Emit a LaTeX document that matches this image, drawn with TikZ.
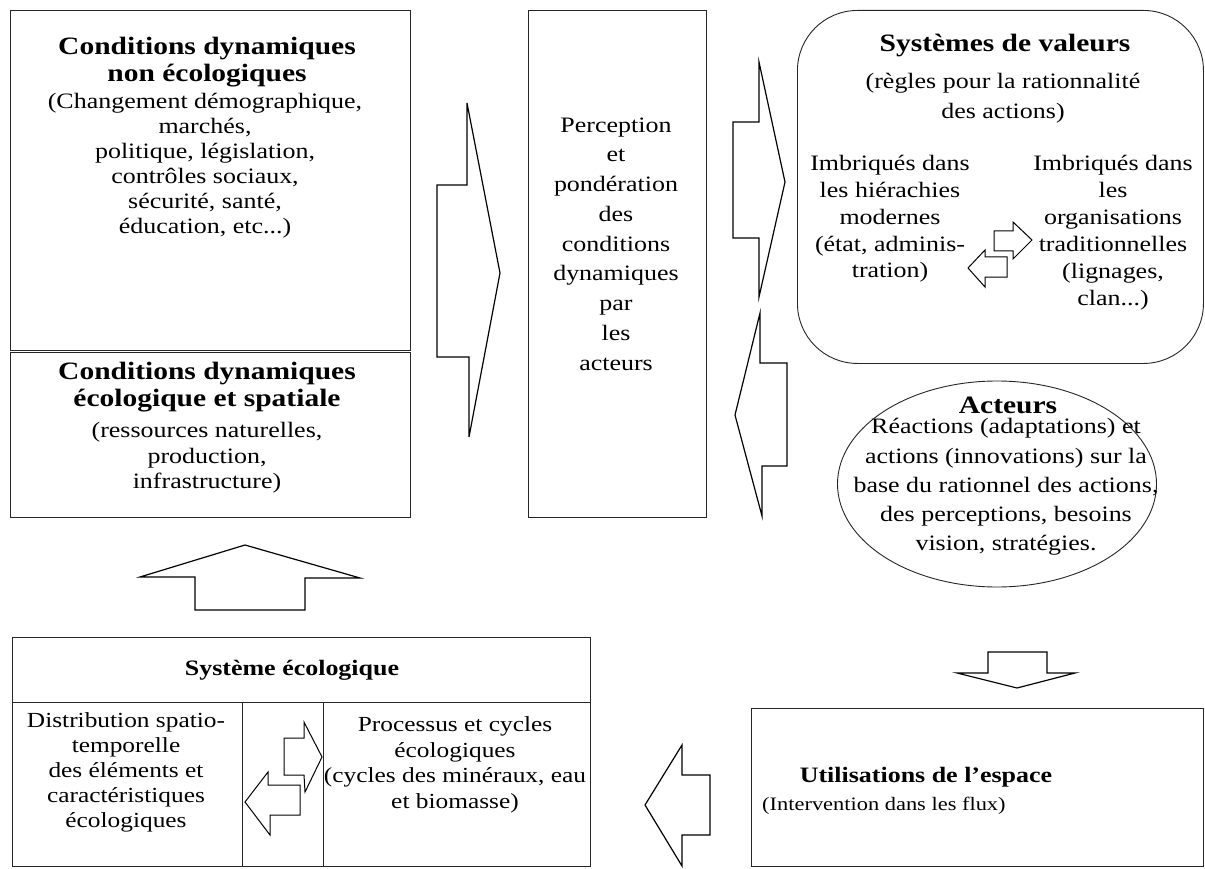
\documentclass[tikz,border=0pt]{standalone}
\usepackage{fontspec}
\setmainfont[FakeStretch=1.18]{Liberation Serif}
\usetikzlibrary{shapes.geometric}
\newcommand\setfs[2]{\fontsize{#1}{#2}\selectfont}
\begin{document}
\begin{tikzpicture}[x=1pt,y=-1pt,
  box/.style={draw=black!85, line width=0.9pt, inner sep=0pt},
  blk/.style={draw=black, line width=1.2pt, line join=miter, fill=white},
  txt/.style={align=center, inner sep=0pt},
  ttl/.style={txt, font=\setfs{25}{27}\bfseries},
  body/.style={txt, font=\setfs{22}{25}}]
\useasboundingbox (0,0) rectangle (1205,869);
\fill[white] (0,0) rectangle (1205,869);

% boxes
\node[box, minimum width=400pt, minimum height=340pt, anchor=north west] (A) at (10,10) {};
\node[box, minimum width=400pt, minimum height=165pt, anchor=north west] (B) at (10,352) {};
\node[box, minimum width=178pt, minimum height=507pt, anchor=north west] (C) at (528,10) {};
\node[box, rounded corners=60pt, minimum width=406pt, minimum height=353pt, anchor=north west] (D) at (797,10) {};
\node[box, ellipse, minimum width=319pt, minimum height=206pt] (E) at (997,484) {};
\node[box, minimum width=452pt, minimum height=158pt, anchor=north west] (F) at (751,708) {};
\node[box, minimum width=578pt, minimum height=229pt, anchor=north west] (G) at (12,637) {};
\coordinate (g1) at (12,702);
\coordinate (g2) at (590,702);
\coordinate (c1t) at (242,702);
\coordinate (c1b) at (242,866);
\coordinate (c2t) at (323,702);
\coordinate (c2b) at (323,866);
\draw[box] (g1) -- (g2);
\draw[box] (c1t) -- (c1b);
\draw[box] (c2t) -- (c2b);

% texts
\node[ttl] (tA1) at (207,62) {Conditions dynamiques\\non écologiques};
\node[body] (tA2) at (205,166) {(Changement démographique,\\marchés,\\politique, législation,\\contrôles sociaux,\\sécurité, santé,\\éducation, etc...)};
\node[ttl] (tB1) at (207,387) {Conditions dynamiques\\écologique et spatiale};
\node[body, font=\setfs{22}{25.5}] (tB2) at (207,458) {(ressources naturelles,\\production,\\infrastructure)};
\node[body, font=\setfs{22}{29.75}] (tC) at (616,244) {Perception\\et\\pondération\\des\\conditions\\dynamiques\\par\\les\\acteurs};
\node[ttl] (tD1) at (1005,46) {Systèmes de valeurs};
\node[body, font=\setfs{22}{30}] (tD2) at (1003,98) {(règles pour la rationnalité\\des actions)};
\node[body, font=\setfs{22}{26.75}] (tDL) at (890,219) {Imbriqués dans\\les hiérachies\\modernes\\(état, adminis-\\tration)};
\node[body, font=\setfs{22}{27}] (tDR) at (1113,233) {Imbriqués dans\\les\\organisations\\traditionnelles\\(lignages,\\clan...)};
\node[ttl] (tE1) at (1008,405) {Acteurs};
\node[body, font=\setfs{22}{29.25}] (tE2) at (1006,487) {Réactions (adaptations) et\\actions (innovations) sur la\\base du rationnel des actions,\\des perceptions, besoins\\vision, stratégies.};
\node[txt, font=\setfs{22}{26}\bfseries] (tF1) at (926,777) {Utilisations de l’espace};
\node[txt, font=\setfs{19}{23}, anchor=west] (tF2) at (762,806) {(Intervention dans les flux)};
\node[txt, font=\setfs{22}{26}\bfseries] (tG1) at (292,670) {Système écologique};
\node[body, font=\setfs{21.5}{25}] (tGL) at (126,772) {Distribution spatio-\\temporelle\\des éléments et\\caractéristiques\\écologiques};
\node[body, font=\setfs{21.5}{25.5}] (tGR) at (455,765) {Processus et cycles\\écologiques\\(cycles des minéraux, eau\\et biomasse)};

% block arrows
\draw[blk] (437,185) -- (467,185) -- (467,103) -- (500,273) -- (469,437) -- (469,357) -- (437,357) -- cycle;
\draw[blk] (733,122) -- (759,122) -- (759,62) -- (785,182) -- (759,297) -- (759,238) -- (733,238) -- cycle;
\draw[blk] (787,363) -- (787,466) -- (762,466) -- (762,516) -- (735,415) -- (760,313) -- (760,363) -- cycle;
\draw[blk] (195,610) -- (195,577) -- (140,577) -- (245,545) -- (360,578) -- (305,578) -- (305,610) -- cycle;
\draw[blk] (988,652) -- (1047,652) -- (1047,673) -- (1075,673) -- (1017,688) -- (957,673) -- (988,673) -- cycle;
\draw[blk] (710,775) -- (710,835) -- (682,835) -- (682,866) -- (645,805) -- (682,745) -- (682,775) -- cycle;
% small arrows in value systems
\draw[blk, line width=1pt] (994,231) -- (1013,231) -- (1013,222) -- (1032,240) -- (1013,259) -- (1013,251) -- (994,251) -- cycle;
\draw[blk, line width=1pt] (1007,257) -- (1007,277) -- (985,277) -- (985,287) -- (968,268) -- (985,250) -- (985,257) -- cycle;
% small arrows in ecological system
\draw[blk, line width=1pt] (284,738) -- (304,738) -- (304,722) -- (322,757) -- (305,792) -- (304,775) -- (284,775) -- cycle;
\draw[blk, line width=1pt] (300,785) -- (300,815) -- (270,815) -- (270,835) -- (245,802) -- (268,772) -- (268,785) -- cycle;
\end{tikzpicture}
\end{document}
